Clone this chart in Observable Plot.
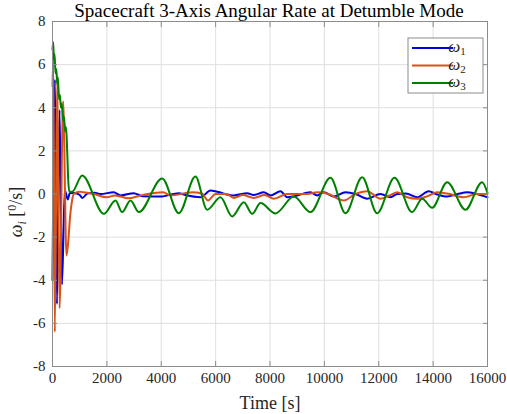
<!DOCTYPE html>
<html>
<head>
<meta charset="utf-8">
<script src="https://cdn.jsdelivr.net/npm/d3@7"></script>
<script src="https://cdn.jsdelivr.net/npm/@observablehq/plot@0.6"></script>
<style>
  body { margin: 0; background: #fff; }
  svg { display: block; }
</style>
</head>
<body>
<div id="chart"></div>
<script>
// Angular rate samples [time s, rate deg/s] for each body axis
const omega1 = [[0,-4.0],[90,5.3],[165,-5.1],[260,3.9],[350,-4.2],[450,0.2],[560,-0.25],[640,0.05],[800,0.05],[1000,-0.05],[1100,-0.18],[1300,0.04],[1550,0.06],[1765,0.0],[2255,0.08],[2500,-0.07],[2990,0.04],[3300,-0.1],[3972,-0.12],[4645,0.04],[4900,-0.05],[5455,-0.15],[5811,0.16],[6058,0.1],[6668,-0.07],[7161,0.04],[7404,-0.05],[7772,0.08],[8018,-0.07],[8386,0.13],[8632,-0.15],[8900,-0.1],[9490,0.08],[9736,-0.07],[9979,0.08],[10346,-0.12],[10776,0.08],[11144,0.0],[11575,-0.22],[12064,0.0],[12432,-0.15],[12678,0.0],[13000,0.02],[13414,-0.15],[13840,0.13],[14100,0.0],[14517,-0.12],[14900,0.0],[15252,0.08],[15600,0.0],[16000,-0.15]];
const omega2 = [[0,5.0],[30,6.2],[85,-6.4],[175,5.4],[260,-5.3],[390,4.3],[515,-2.85],[580,-2.2],[650,-1.0],[720,-0.3],[783,0.0],[1000,0.1],[1152,0.08],[1520,0.0],[1990,-0.15],[2300,-0.07],[2501,-0.12],[2780,-0.2],[3236,-0.07],[3500,0.0],[4065,0.08],[4340,-0.07],[5138,0.08],[5500,0.02],[5720,-0.3],[6000,0.0],[6400,0.0],[6668,-0.18],[7000,-0.05],[7404,-0.18],[7800,-0.05],[8140,-0.22],[8632,0.0],[9368,0.0],[9736,0.08],[10100,0.02],[10714,-0.3],[11144,0.0],[11575,0.13],[12064,-0.22],[12432,-0.05],[12678,0.08],[13046,-0.15],[13414,-0.22],[13800,-0.1],[14149,0.08],[14517,0.02],[15128,-0.15],[15600,0.0],[16000,0.0]];
const omega3 = [[0,6.7],[25,7.05],[50,6.2],[75,6.5],[110,5.6],[140,5.8],[175,5.1],[200,5.4],[240,4.4],[270,4.6],[310,4.0],[340,4.2],[390,3.4],[420,3.6],[470,2.9],[500,3.1],[540,2.0],[580,0.6],[620,0.1],[720,0.1],[1092,0.86],[1888,-0.92],[2317,-0.30],[2562,-0.84],[2868,-0.30],[3175,-0.84],[4034,0.72],[4646,-0.89],[5259,0.81],[5689,-0.73],[6179,-0.15],[6608,-1.04],[7036,-0.38],[7344,-0.92],[7650,-0.42],[8200,-0.9],[8876,-0.12],[9489,-0.84],[10224,0.75],[10776,-0.89],[11390,0.78],[11942,-0.89],[12578,0.75],[13229,-0.84],[13596,-0.22],[13964,-0.64],[14516,0.55],[15189,-0.73],[15803,0.55],[16000,0.05]];

const seriesKeys = ["1", "2", "3"];
const seriesColors = ["#0000dd", "#d95319", "#008000"];
const xTicks = [0, 2000, 4000, 6000, 8000, 10000, 12000, 14000, 16000];
const yTicks = [-8, -6, -4, -2, 0, 2, 4, 6, 8];

const rows = [];
[omega1, omega2, omega3].forEach((s, i) =>
  s.forEach(([t, w]) => rows.push({series: seriesKeys[i], t, w})));

const serif = "Liberation Serif, DejaVu Serif, serif";
const W = 507, H = 414;
const fmt = d => String(d);

const plot = Plot.plot({
  width: W, height: H,
  marginTop: 21, marginBottom: 48, marginLeft: 52, marginRight: 20,
  style: {fontFamily: serif, fontSize: "15px", color: "#262626", background: "#fff", overflow: "visible"},
  x: {domain: [0, 16000], label: null},
  y: {domain: [-8, 8], label: null},
  color: {domain: seriesKeys, range: seriesColors},
  marks: [
    Plot.gridX(xTicks, {stroke: "#dfdfdf", strokeOpacity: 1}),
    Plot.gridY(yTicks, {stroke: "#dfdfdf", strokeOpacity: 1}),
    Plot.line(rows, {x: "t", y: "w", z: "series", stroke: "series", strokeWidth: 2, strokeLinejoin: "round", curve: "monotone-x"}),
    Plot.axisX(xTicks, {anchor: "bottom", tickSize: -5, tickPadding: 11, tickFormat: fmt, stroke: "#8c8c8c", fontFamily: serif, fontSize: 15, label: null}),
    Plot.axisX(xTicks, {anchor: "top", tickSize: -5, tickFormat: () => "", stroke: "#8c8c8c", label: null}),
    Plot.axisY(yTicks, {anchor: "left", tickSize: -5, tickPadding: 12, tickFormat: fmt, stroke: "#8c8c8c", fontFamily: serif, fontSize: 15, label: null}),
    Plot.axisY(yTicks, {anchor: "right", tickSize: -5, tickFormat: () => "", stroke: "#8c8c8c", label: null}),
    Plot.frame({stroke: "#8c8c8c"})
  ]
});

document.getElementById("chart").appendChild(plot);

const svg = d3.select(plot);

// Title
svg.append("text")
  .attr("x", 269).attr("y", 17)
  .attr("text-anchor", "middle")
  .attr("font-family", serif).attr("font-size", 19)
  .attr("fill", "#000")
  .text("Spacecraft 3-Axis Angular Rate at Detumble Mode");

// X axis label
svg.append("text")
  .attr("x", 270).attr("y", 409)
  .attr("text-anchor", "middle")
  .attr("font-family", serif).attr("font-size", 18)
  .attr("fill", "#262626")
  .text("Time [s]");

// Y axis label: ω_i [^0/s]
const yl = svg.append("text")
  .attr("transform", "translate(22,212) rotate(-90)")
  .attr("text-anchor", "middle")
  .attr("font-family", serif).attr("font-size", 18)
  .attr("fill", "#262626");
yl.append("tspan").attr("font-style", "italic").text("ω");
yl.append("tspan").attr("font-style", "italic").attr("font-size", 12).attr("dy", 4).text("i");
yl.append("tspan").attr("dy", -4).text(" [");
yl.append("tspan").attr("font-size", 12).attr("dy", -6).text("0");
yl.append("tspan").attr("dy", 6).text("/s]");

// Legend
const lg = svg.append("g");
lg.append("rect")
  .attr("x", 408).attr("y", 38).attr("width", 75).attr("height", 55)
  .attr("fill", "#fff").attr("stroke", "#8c8c8c");
seriesKeys.forEach((k, i) => {
  const y = 48 + i * 17.5;
  lg.append("line")
    .attr("x1", 412).attr("x2", 453).attr("y1", y).attr("y2", y)
    .attr("stroke", seriesColors[i]).attr("stroke-width", 2);
  const t = lg.append("text")
    .attr("x", 457).attr("y", y + 4)
    .attr("font-family", serif).attr("font-size", 17).attr("fill", "#262626");
  t.append("tspan").attr("font-style", "italic").text("ω");
  t.append("tspan").attr("font-size", 11).attr("dy", 3).text(k);
});
</script>
</body>
</html>
